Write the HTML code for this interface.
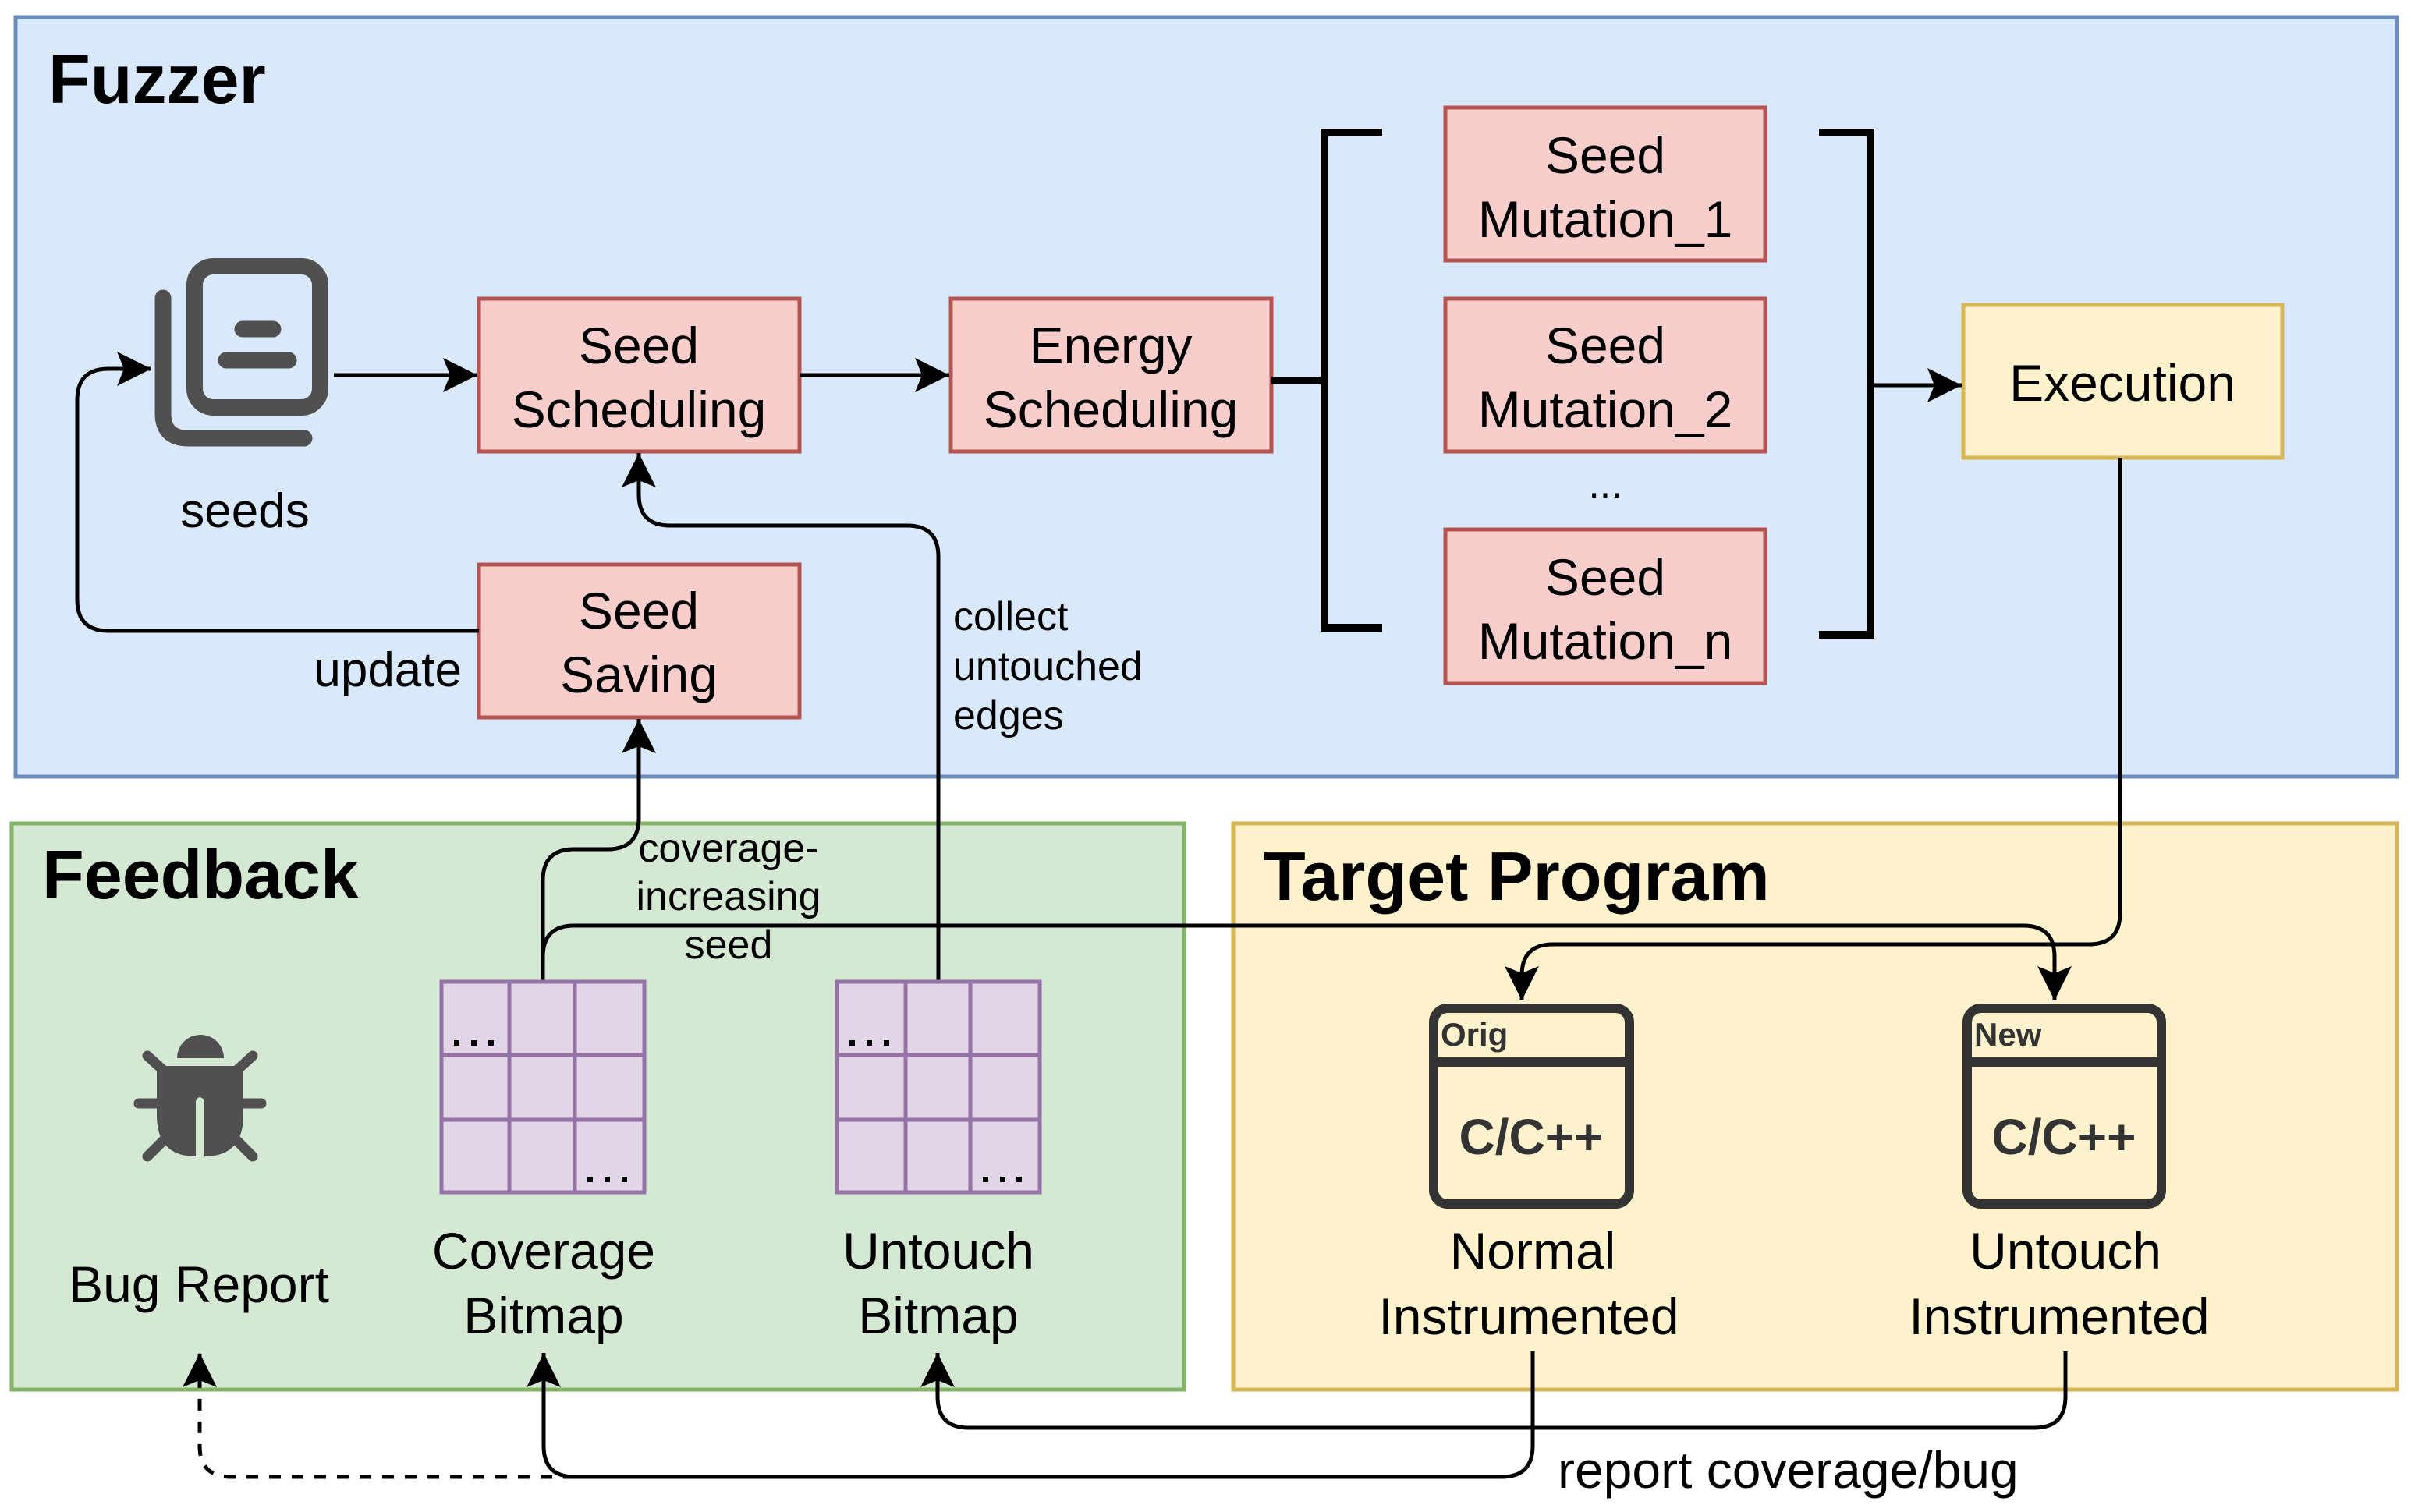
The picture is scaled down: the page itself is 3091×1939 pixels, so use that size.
<!DOCTYPE html>
<html><head><meta charset="utf-8"><style>
html,body{margin:0;padding:0;background:#fff}
svg{display:block}
text{font-family:"Liberation Sans",Arial,sans-serif;fill:#000}
</style></head><body>
<svg width="3091" height="1939" viewBox="0 0 3091 1939" xmlns="http://www.w3.org/2000/svg">
<defs>
<marker id="ar" markerUnits="userSpaceOnUse" markerWidth="50" markerHeight="50" viewBox="0 0 50 50" refX="46" refY="25" orient="auto">
<path d="M2,3 L46,25 L2,47 L11,25 Z" fill="#000"/>
</marker>
</defs>

<rect x="20" y="22" width="3053" height="974" fill="#dae8fc" stroke="#6c8ebf" stroke-width="5"/>
<rect x="15" y="1056" width="1503" height="726" fill="#d5e8d4" stroke="#82b366" stroke-width="5"/>
<rect x="1581" y="1056" width="1492" height="726" fill="#fff2cc" stroke="#d6b656" stroke-width="5"/>

<text x="62" y="132" font-size="88" font-weight="bold">Fuzzer</text>
<text x="54" y="1152" font-size="88" font-weight="bold">Feedback</text>
<text x="1620" y="1154" font-size="88" font-weight="bold">Target Program</text>

<g fill="none" stroke="#505050" stroke-width="21" stroke-linecap="round">
<rect x="249.5" y="341.5" width="161" height="181" rx="24"/>
<line x1="311" y1="422" x2="350" y2="422"/>
<line x1="290" y1="462" x2="370" y2="462"/>
<path d="M209,382 L209,530 Q209,562 241,562 L390,562"/>
</g>
<text x="314" y="676" font-size="62" text-anchor="middle">seeds</text>

<g fill="#f8cecc" stroke="#b85450" stroke-width="5">
<rect x="614" y="383" width="411" height="196"/>
<rect x="1219" y="383" width="411" height="196"/>
<rect x="614" y="724" width="411" height="196"/>
<rect x="1853" y="138" width="410" height="196"/>
<rect x="1853" y="383" width="410" height="196"/>
<rect x="1853" y="679" width="410" height="197"/>
</g>
<rect x="2517" y="391" width="409" height="196" fill="#fff2cc" stroke="#d6b656" stroke-width="5"/>

<g font-size="66" text-anchor="middle">
<text x="819" y="466">Seed</text><text x="819" y="548">Scheduling</text>
<text x="1424" y="466">Energy</text><text x="1424" y="548">Scheduling</text>
<text x="819" y="806">Seed</text><text x="819" y="888">Saving</text>
<text x="2058" y="222">Seed</text><text x="2058" y="304">Mutation_1</text>
<text x="2058" y="466">Seed</text><text x="2058" y="548">Mutation_2</text>
<text x="2058" y="763">Seed</text><text x="2058" y="845">Mutation_n</text>
<text x="2721" y="514">Execution</text>
</g>
<text x="2058" y="638" font-size="52" text-anchor="middle">...</text>

<g fill="none" stroke="#000" stroke-width="10">
<path d="M1772,170 L1698,170 L1698,805 L1772,805"/>
<path d="M2332,170 L2398,170 L2398,814 L2332,814"/>
<line x1="1630" y1="488" x2="1698" y2="488"/>
</g>

<g fill="none" stroke="#000" stroke-width="5">
<line x1="428" y1="481" x2="612" y2="481" marker-end="url(#ar)"/>
<line x1="1025" y1="481" x2="1217" y2="481" marker-end="url(#ar)"/>
<line x1="2398" y1="494" x2="2515" y2="494" marker-end="url(#ar)"/>
<path d="M614,809 L139,809 Q99,809 99,769 L99,513 Q99,473 139,473 L194,473" marker-end="url(#ar)"/>
<path d="M1203,1257 L1203,714 Q1203,674 1163,674 L859,674 Q819,674 819,634 L819,581" marker-end="url(#ar)"/>
<path d="M696,1257 L696,1129 Q696,1089 736,1089 L779,1089 Q819,1089 819,1049 L819,922" marker-end="url(#ar)"/>
<path d="M696,1257 L696,1227 Q696,1187 736,1187 L2594,1187 Q2634,1187 2634,1227 L2634,1283" marker-end="url(#ar)"/>
<path d="M2718,587 L2718,1171 Q2718,1211 2678,1211 L1991,1211 Q1951,1211 1951,1251 L1951,1283" marker-end="url(#ar)"/>
<path d="M2648,1733 L2648,1791 Q2648,1831 2608,1831 L1242,1831 Q1202,1831 1202,1791 L1202,1735" marker-end="url(#ar)"/>
<path d="M1965,1733 L1965,1854 Q1965,1894 1925,1894 L737,1894 Q697,1894 697,1854 L697,1735" marker-end="url(#ar)"/>
<path d="M737,1894 L296,1894 Q256,1894 256,1854 L256,1735" stroke-dasharray="15 14" marker-end="url(#ar)"/>
</g>

<text x="592" y="880" font-size="62" text-anchor="end">update</text>
<g font-size="52">
<text x="1222" y="808">collect</text>
<text x="1222" y="872">untouched</text>
<text x="1222" y="935">edges</text>
</g>
<g font-size="52" text-anchor="middle">
<text x="934" y="1105">coverage-</text>
<text x="934" y="1167">increasing</text>
<text x="934" y="1229">seed</text>
</g>

<g fill="#505050">
<path d="M227,1357 A30,30 0 0 1 287,1357 Z"/>
<path d="M201,1367 L312,1367 L312,1430 Q312,1483 262,1483 L262,1412 Q256,1402 251,1412 L251,1483 Q201,1483 201,1430 Z"/>
</g>
<g stroke="#505050" stroke-width="13" stroke-linecap="round">
<line x1="189" y1="1354" x2="211" y2="1374"/>
<line x1="324" y1="1354" x2="302" y2="1374"/>
<line x1="178" y1="1415" x2="205" y2="1415"/>
<line x1="335" y1="1415" x2="308" y2="1415"/>
<line x1="189" y1="1483" x2="212" y2="1460"/>
<line x1="324" y1="1483" x2="301" y2="1460"/>
</g>
<text x="255" y="1670" font-size="66" text-anchor="middle">Bug Report</text>

<g fill="#e1d5e7" stroke="#9673a6" stroke-width="5">
<rect x="566" y="1259" width="260" height="270"/>
<rect x="1073" y="1259" width="260" height="270"/>
</g>
<g stroke="#9673a6" stroke-width="5">
<line x1="653" y1="1259" x2="653" y2="1529"/><line x1="737" y1="1259" x2="737" y2="1529"/>
<line x1="566" y1="1353" x2="826" y2="1353"/><line x1="566" y1="1436" x2="826" y2="1436"/>
<line x1="1161" y1="1259" x2="1161" y2="1529"/><line x1="1244" y1="1259" x2="1244" y2="1529"/>
<line x1="1073" y1="1353" x2="1333" y2="1353"/><line x1="1073" y1="1436" x2="1333" y2="1436"/>
</g>
<g fill="#000">
<rect x="582" y="1334" width="7" height="7"/><rect x="604" y="1334" width="7" height="7"/><rect x="626" y="1334" width="7" height="7"/>
<rect x="753" y="1509" width="7" height="7"/><rect x="775" y="1509" width="7" height="7"/><rect x="797" y="1509" width="7" height="7"/>
<rect x="1089" y="1334" width="7" height="7"/><rect x="1111" y="1334" width="7" height="7"/><rect x="1133" y="1334" width="7" height="7"/>
<rect x="1260" y="1509" width="7" height="7"/><rect x="1282" y="1509" width="7" height="7"/><rect x="1303" y="1509" width="7" height="7"/>
</g>
<g font-size="66" text-anchor="middle">
<text x="697" y="1627">Coverage</text><text x="697" y="1710">Bitmap</text>
<text x="1203" y="1627">Untouch</text><text x="1203" y="1710">Bitmap</text>
<text x="1965" y="1627">Normal</text><text x="1960" y="1711">Instrumented</text>
<text x="2648" y="1627">Untouch</text><text x="2640" y="1711">Instrumented</text>
</g>

<g fill="none" stroke="#333333" stroke-width="12">
<rect x="1838" y="1293" width="251" height="251" rx="18"/>
<line x1="1838" y1="1362" x2="2089" y2="1362"/>
<rect x="2522" y="1293" width="249" height="251" rx="18"/>
<line x1="2522" y1="1362" x2="2771" y2="1362"/>
</g>
<g font-weight="bold">
<text x="1847" y="1341" font-size="42" style="fill:#333">Orig</text>
<text x="2531" y="1341" font-size="42" style="fill:#333">New</text>
<text x="1963" y="1480" font-size="64" text-anchor="middle" style="fill:#333">C/C++</text>
<text x="2646" y="1480" font-size="64" text-anchor="middle" style="fill:#333">C/C++</text>
</g>

<text x="1997" y="1908" font-size="66">report coverage/bug</text>
</svg>
</body></html>
